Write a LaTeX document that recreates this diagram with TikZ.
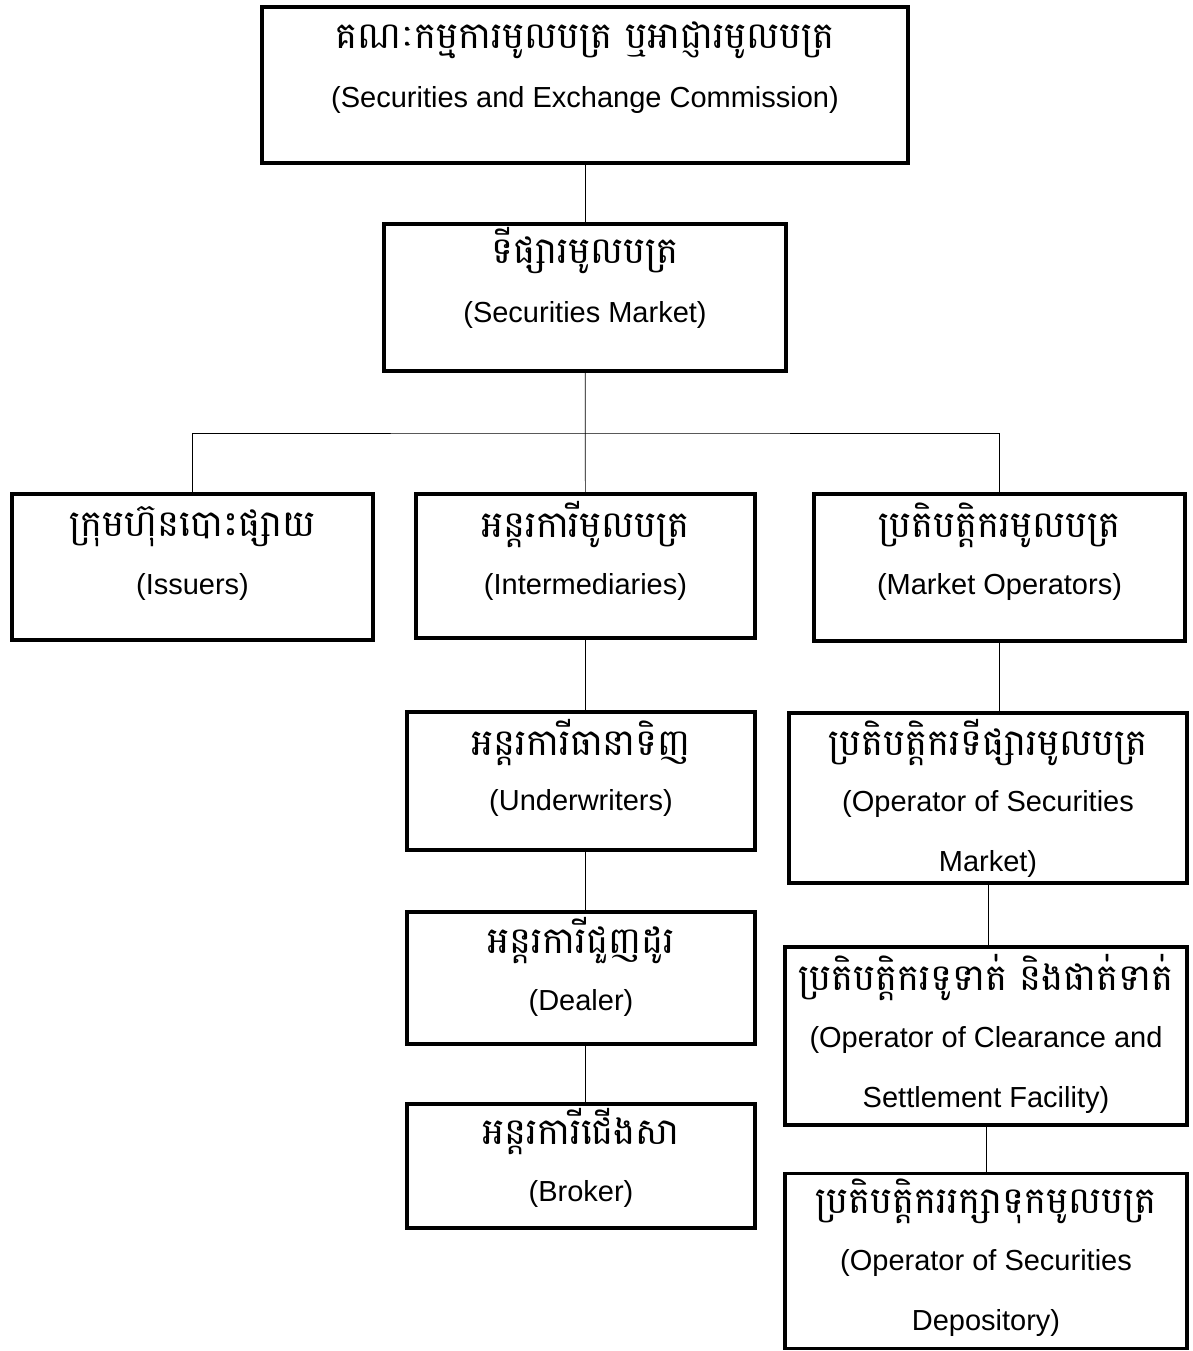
\documentclass[tikz,border=0pt]{standalone}
\usepackage{fontspec}
\setmainfont{Liberation Sans}
\newfontfamily\khmerfont[Script=Khmer]{Battambang}

\begin{document}
\begin{tikzpicture}[thin,
    box/.style = {draw, line width=2.2pt, inner sep=0pt},
    txt/.style = {align=center, anchor=base, inner sep=0pt, font=\fontsize{16.5}{34}\selectfont},
    km/.style = {anchor=base, inner sep=0pt, font=\khmerfont\fontsize{21}{24}\selectfont}]
    \useasboundingbox (0,0) rectangle (23.84,-27.02);

    % boxes
    \node[box, minimum width=12.92cm, minimum height=3.12cm] (sec) at (11.70,-1.70) {};
    \node[box, minimum width=8.04cm, minimum height=2.94cm] (mkt) at (11.70,-5.95) {};
    \node[box, minimum width=7.22cm, minimum height=2.92cm] (iss) at (3.85,-11.34) {};
    \node[box, minimum width=6.78cm, minimum height=2.88cm] (int) at (11.71,-11.32) {};
    \node[box, minimum width=7.42cm, minimum height=2.94cm] (ops) at (19.99,-11.35) {};
    \node[box, minimum width=6.96cm, minimum height=2.76cm] (und) at (11.62,-15.62) {};
    \node[box, minimum width=7.96cm, minimum height=3.40cm] (osm) at (19.76,-15.96) {};
    \node[box, minimum width=6.96cm, minimum height=2.64cm] (dea) at (11.62,-19.56) {};
    \node[box, minimum width=8.04cm, minimum height=3.56cm] (clr) at (19.72,-20.72) {};
    \node[box, minimum width=6.96cm, minimum height=2.48cm] (bro) at (11.62,-23.32) {};
    \node[box, minimum width=8.04cm, minimum height=3.50cm] (dep) at (19.72,-25.22) {};

    % texts
    \node[km] (sec-k) at ([yshift=-0.86cm]sec.north) {គណៈកម្មការមូលបត្រ ឬអាជ្ញារមូលបត្រ};
    \node[txt] (sec-e) at ([yshift=-2.04cm]sec.north) {(Securities and Exchange Commission)};
    \node[km] (mkt-k) at ([yshift=-0.82cm]mkt.north) {ទីផ្សារមូលបត្រ};
    \node[txt] (mkt-e) at ([yshift=-2.0cm]mkt.north) {(Securities Market)};
    \node[km] (iss-k) at ([yshift=-0.88cm]iss.north) {ក្រុមហ៊ុនបោះផ្សាយ};
    \node[txt] (iss-e) at ([yshift=-2.04cm]iss.north) {(Issuers)};
    \node[km] (int-k) at ([yshift=-0.90cm]int.north) {អន្តរការីមូលបត្រ};
    \node[txt] (int-e) at ([yshift=-2.04cm]int.north) {(Intermediaries)};
    \node[km] (ops-k) at ([yshift=-0.90cm]ops.north) {ប្រតិបត្តិករមូលបត្រ};
    \node[txt] (ops-e) at ([yshift=-2.04cm]ops.north) {(Market Operators)};
    \node[km] (und-k) at ([yshift=-0.90cm]und.north) {អន្តរការីធានាទិញ};
    \node[txt] (und-e) at ([yshift=-2.0cm]und.north) {(Underwriters)};
    \node[km] (osm-k) at ([yshift=-0.88cm]osm.north) {ប្រតិបត្តិករទីផ្សារមូលបត្រ};
    \node[txt] (osm-e) at ([yshift=-3.2cm]osm.north) {(Operator of Securities\\Market)};
    \node[km] (dea-k) at ([yshift=-0.86cm]dea.north) {អន្តរការីជួញដូរ};
    \node[txt] (dea-e) at ([yshift=-2.0cm]dea.north) {(Dealer)};
    \node[km] (clr-k) at ([yshift=-0.90cm]clr.north) {ប្រតិបត្តិករទូទាត់ និងផាត់ទាត់};
    \node[txt] (clr-e) at ([yshift=-3.24cm]clr.north) {(Operator of Clearance and\\Settlement Facility)};
    \node[km] (bro-k) at ([yshift=-0.84cm]bro.north) {អន្តរការីជើងសា};
    \node[txt] (bro-e) at ([yshift=-1.98cm]bro.north) {(Broker)};
    \node[km] (dep-k) at ([yshift=-0.84cm]dep.north) {ប្រតិបត្តិកររក្សាទុកមូលបត្រ};
    \node[txt] (dep-e) at ([yshift=-3.18cm]dep.north) {(Operator of Securities\\Depository)};

    % connectors
    \coordinate (bus) at (11.70,-8.66);
    \draw (sec) -- (mkt);
    \draw (mkt) -- (int);
    \draw (iss.north) |- (bus) -| (ops.north);
    \draw (int.south) -- (int.south |- und.north);
    \draw (int.south |- und.south) -- (int.south |- dea.north);
    \draw (int.south |- dea.south) -- (int.south |- bro.north);
    \draw (ops.south) -- (ops.south |- osm.north);
    \draw (osm.south) -- (osm.south |- clr.north);
    \draw (clr) -- (dep);
\end{tikzpicture}
\end{document}
